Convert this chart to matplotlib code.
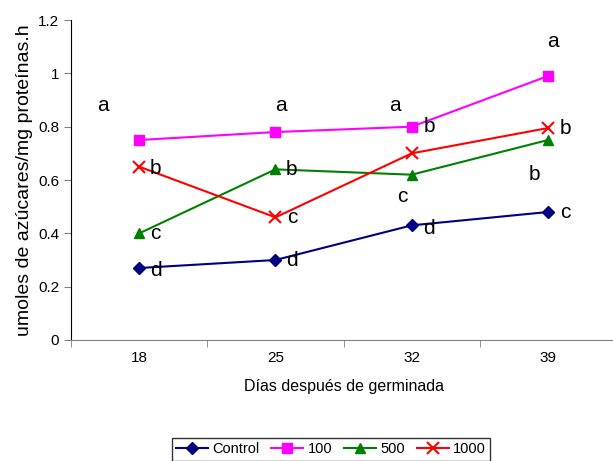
import matplotlib.pyplot as plt

dias = ['18', '25', '32', '39']
control = [0.27, 0.30, 0.43, 0.48]
c100 = [0.75, 0.78, 0.80, 0.99]
c500 = [0.40, 0.64, 0.62, 0.75]
c1000 = [0.65, 0.46, 0.70, 0.795]

# letras de significancia: (posicion x, valor y, letra)
letras = [
    (-0.27, 0.88, 'a'), (0.12, 0.645, 'b'), (0.12, 0.40, 'c'), (0.12, 0.26, 'd'),
    (1.04, 0.88, 'a'), (1.12, 0.64, 'b'), (1.12, 0.46, 'c'), (1.12, 0.30, 'd'),
    (1.875, 0.88, 'a'), (2.13, 0.80, 'b'), (1.93, 0.54, 'c'), (2.13, 0.42, 'd'),
    (3.04, 1.12, 'a'), (3.13, 0.795, 'b'), (2.90, 0.62, 'b'), (3.13, 0.48, 'c'),
]

fig = plt.figure(figsize=(6.13, 4.61), dpi=100)
ax = fig.add_axes([0.116, 0.2625, 0.889, 0.694])

x = range(len(dias))
ax.plot(x, control, color='#000080', marker='D', markersize=6, lw=1.5, label='Control')
ax.plot(x, c100, color='#FF00FF', marker='s', markersize=7, lw=1.5, label='100')
ax.plot(x, c500, color='#008000', marker='^', markersize=7, lw=1.5, label='500')
ax.plot(x, c1000, color='#FF0000', marker='x', markersize=8, mew=1.5, lw=1.5, label='1000')

for xi, yi, t in letras:
    ax.text(xi, yi, t, fontsize=15, ha='center', va='center', family='Liberation Sans')

ax.set_xlim(-0.5, 3.5)
ax.set_ylim(0, 1.2)
ax.set_yticks([0, 0.2, 0.4, 0.6, 0.8, 1.0, 1.2])
ax.set_yticklabels(['0', '0.2', '0.4', '0.6', '0.8', '1', '1.2'])
ax.set_xticks(list(x))
ax.set_xticklabels(dias)
ax.set_xticks([-0.5, 0.5, 1.5, 2.5, 3.5], minor=True)
ax.tick_params(axis='x', which='major', length=0, pad=8)
ax.tick_params(axis='x', which='minor', length=5, direction='out', color='#808080')
ax.tick_params(axis='y', length=5, direction='out', color='#808080')
for lab in ax.get_xticklabels() + ax.get_yticklabels():
    lab.set_family('Liberation Sans')
    lab.set_fontsize(11)

ax.spines['top'].set_visible(False)
ax.spines['right'].set_visible(False)
ax.spines['left'].set_color('black')
ax.spines['bottom'].set_color('#808080')

ax.set_xlabel('Días después de germinada', family='Liberation Sans', fontsize=11.5, labelpad=10)
ax.set_ylabel('umoles de azúcares/mg proteínas.h', family='Liberation Sans', fontsize=14, labelpad=4)

leg = fig.legend(loc='center', bbox_to_anchor=(0.54, 0.025), ncol=4,
                 prop={'family': 'Liberation Sans', 'size': 10.5}, frameon=True,
                 fancybox=False, edgecolor='black', handlelength=2.2,
                 handletextpad=0.3, columnspacing=0.8, borderpad=0.3)
leg.get_frame().set_linewidth(1.0)

fig.savefig('out.png', dpi=100)
